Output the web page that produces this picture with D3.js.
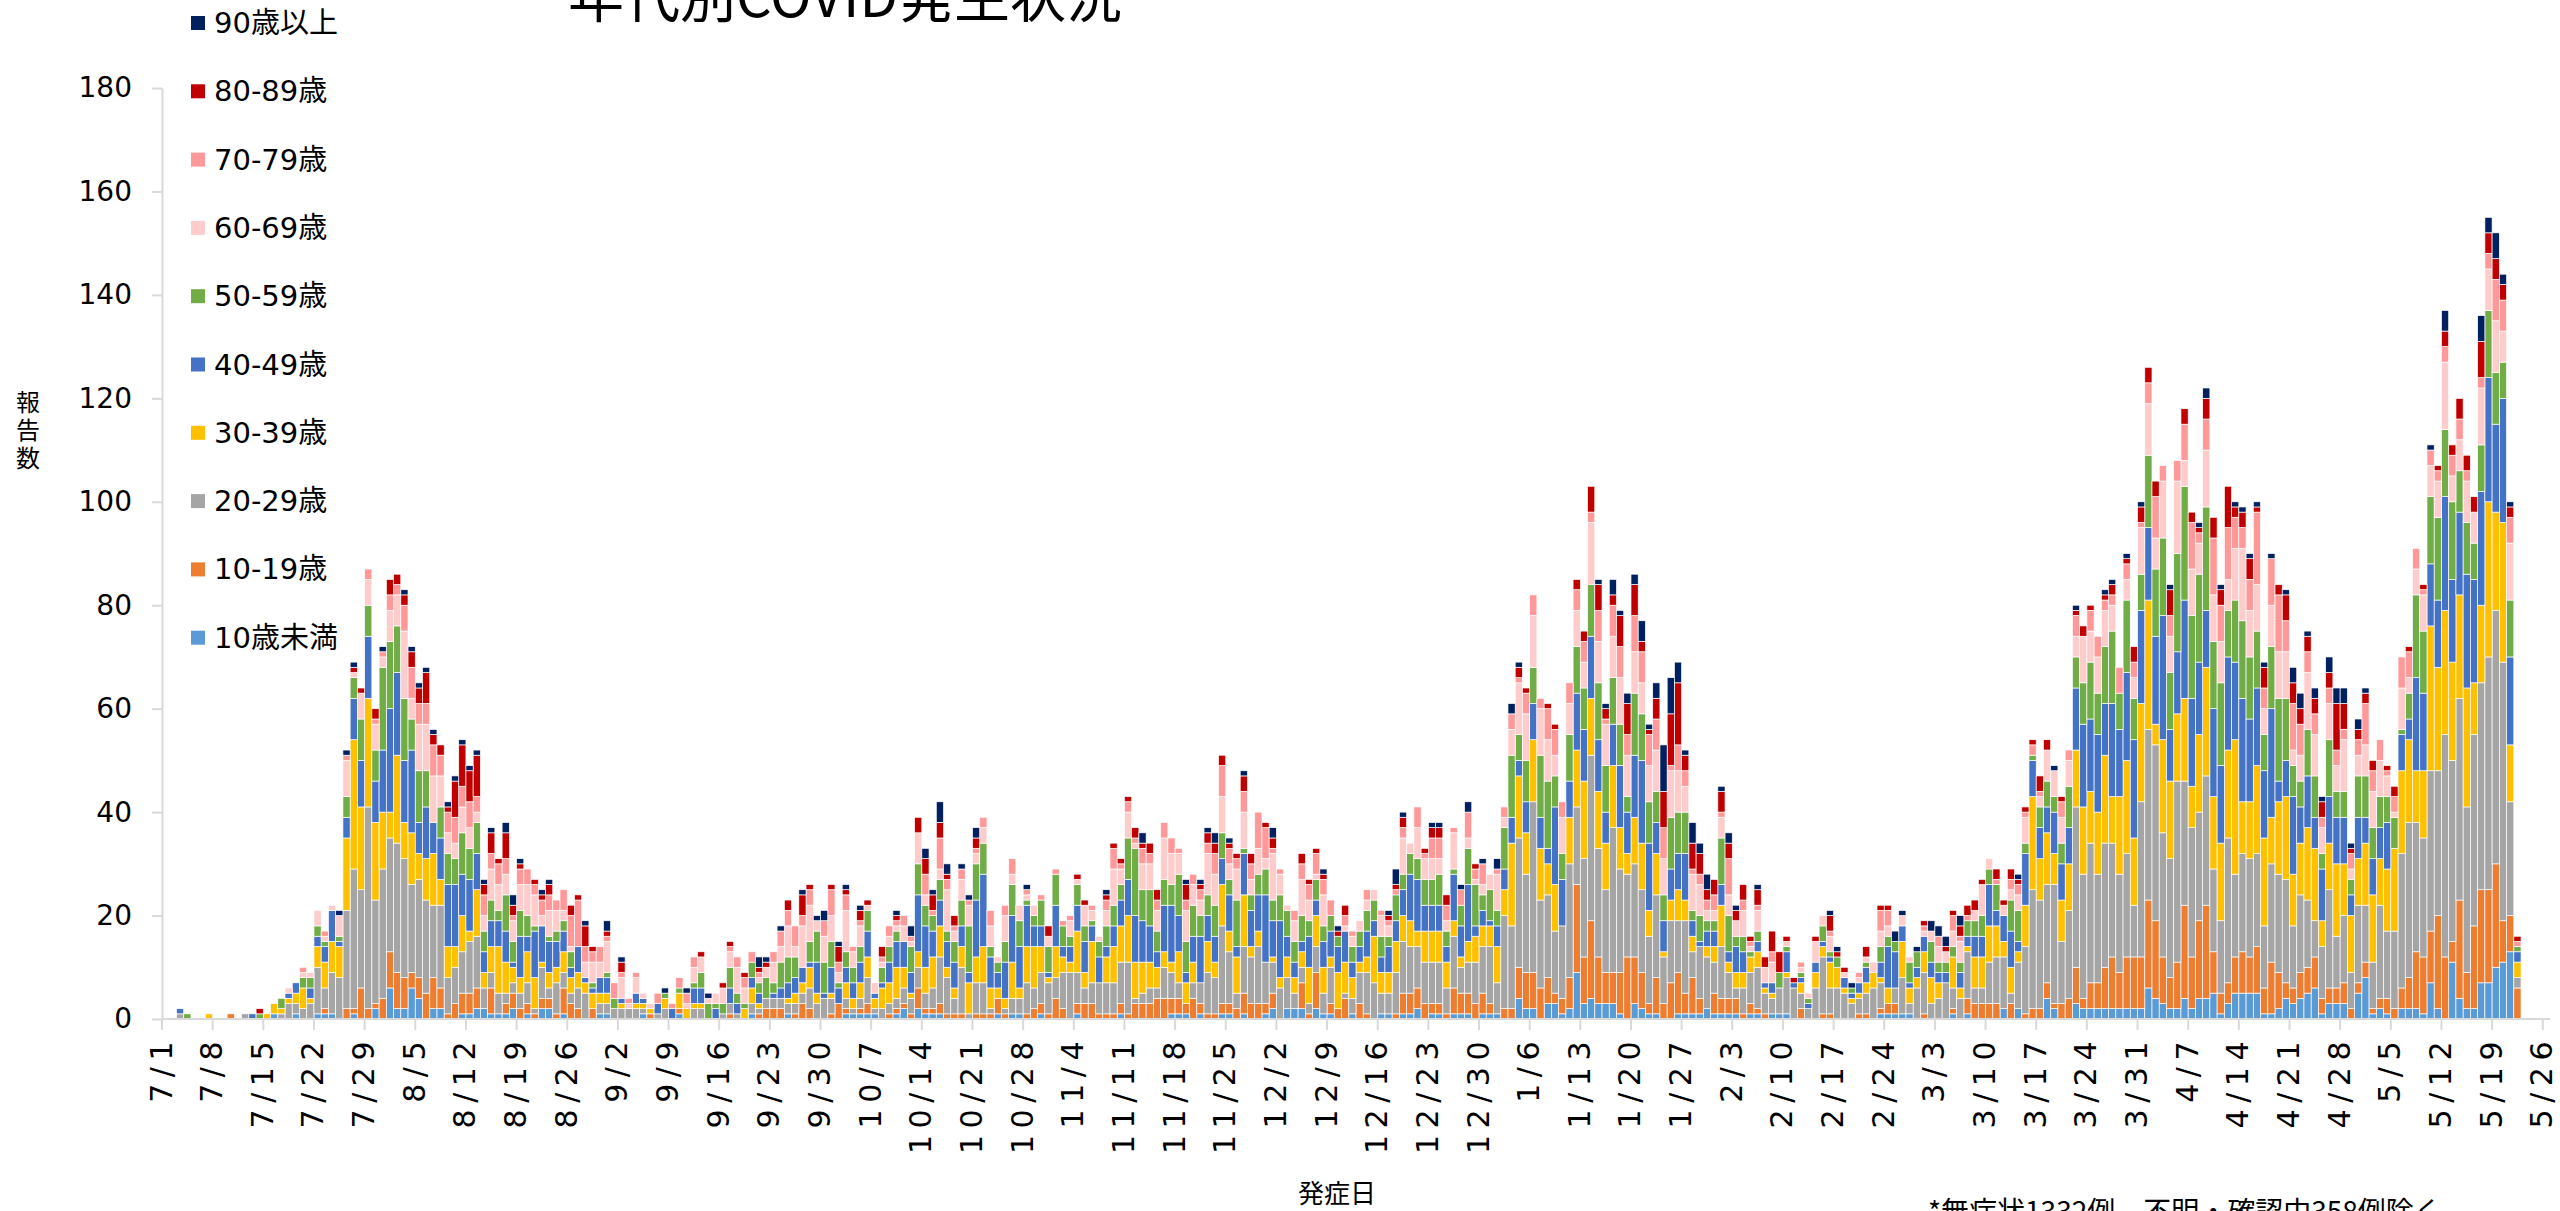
<!DOCTYPE html>
<html><head><meta charset="utf-8">
<script src="https://cdn.jsdelivr.net/npm/d3@7"></script>
<style>
html,body{margin:0;padding:0;background:#fff;}
svg{display:block;}
</style></head><body>
<svg id="chart" width="2560" height="1211"></svg>
<script>
const seriesNames = ["10歳未満","10-19歳","20-29歳","30-39歳","40-49歳","50-59歳","60-69歳","70-79歳","80-89歳","90歳以上"];
const seriesColors = ["#5B9BD5","#ED7D31","#A5A5A5","#FFC000","#4472C4","#70AD47","#FFCCCC","#FF9999","#C00000","#002060"];

const under10 = [0,0,0,0,0,0,0,0,0,0, 0,0,0,0,0,1,0,0,1,0, 0,1,1,1,0,0,1,0,0,2, 0,6,2,2,6,4,0,2,2,0, 0,1,1,2,2,1,1,1,2,0, 1,0,2,2,0,1,0,0,0,0, 1,1,0,0,0,0,1,0,0,0, 0,1,0,0,0,0,0,0,0,0, 0,1,0,0,0,0,1,0,0,0, 0,0,0,0,1,1,1,1,1,0, 0,1,2,0,2,1,1,1,0,0, 0,0,0,0,0,1,0,1,1,0, 0,1,0,0,0,0,1,0,0,0, 0,0,1,0,0,0,0,0,0,1, 1,1,0,1,0,0,1,1,0,1, 0,0,1,2,0,2,2,2,0,2, 1,1,0,0,1,0,0,0,1,1, 0,1,1,2,0,1,1,0,1,1, 1,0,1,1,1,0,0,4,2,2, 0,3,3,1,2,9,3,4,3,3, 3,1,0,3,2,1,1,0,0,1, 1,1,1,2,1,1,1,1,0,1, 1,0,1,1,1,0,0,0,0,0, 0,0,0,0,0,0,0,1,1,1, 1,1,0,0,0,0,0,1,0,1, 0,0,0,0,2,0,2,0,0,0, 4,2,0,0,3,2,2,2,2,2, 2,2,2,2,6,4,3,2,2,4, 2,4,4,5,1,3,5,5,5,5, 1,1,2,4,3,4,5,6,1,3, 3,3,0,5,8,1,2,1,0,2, 2,2,1,7,2,0,11,4,2,2, 7,7,10,11,13,0];
const age10s = [0,0,0,0,0,0,0,0,0,1, 0,0,0,0,0,0,0,0,0,0, 0,0,1,0,0,2,1,6,2,1, 4,7,7,6,3,4,5,6,4,1, 3,4,4,4,0,5,0,2,3,2, 2,1,2,2,1,5,3,2,0,2, 0,0,0,0,0,0,0,1,0,0, 0,1,0,0,0,0,0,0,1,0, 0,0,1,2,2,2,0,1,3,2, 0,0,1,3,1,0,1,2,0,0, 1,1,1,1,4,1,1,2,1,1, 1,0,1,1,1,3,1,0,0,1, 2,2,1,4,2,0,2,3,3,1, 1,1,2,1,3,3,3,4,4,3, 3,2,4,2,1,1,2,2,2,4, 3,3,2,3,0,0,0,5,1,7, 0,2,2,4,0,3,1,0,0,0, 1,4,4,4,3,2,2,1,5,4, 4,3,4,2,0,2,2,6,7,7, 6,5,2,3,6,17,9,15,9,6, 6,8,12,9,7,2,7,3,7,8, 4,7,3,0,4,3,3,3,1,2, 1,1,0,0,0,0,2,0,0,1, 1,0,0,0,1,1,0,1,2,2, 0,0,0,1,0,0,0,1,0,3, 3,3,3,3,0,3,0,1,2,2, 3,1,3,4,7,2,5,5,8,10, 7,10,10,10,17,15,9,6,9,18, 10,15,18,8,4,4,7,8,7,9, 5,10,7,3,3,5,5,6,3,3, 3,4,2,2,3,1,2,3,2,4, 6,11,11,10,18,12,4,19,7,16, 18,18,20,8,7,6];
const age20s = [0,0,1,0,0,0,0,0,0,0, 0,1,0,0,0,0,1,3,2,2, 3,9,4,8,8,19,27,19,39,20, 25,22,25,23,17,19,18,14,16,7, 7,8,10,10,4,3,4,2,2,3, 4,1,6,2,6,3,2,4,5,0, 2,2,2,2,2,2,1,0,1,2, 0,0,0,2,2,0,0,1,2,1, 0,2,1,2,2,2,2,2,2,4, 3,4,3,0,2,1,2,5,1,2, 2,2,3,3,4,3,4,9,7,3, 9,1,6,6,1,0,1,3,3,6, 4,6,6,4,7,9,6,3,4,6, 6,6,8,10,1,2,3,2,6,5, 3,0,3,4,8,7,15,10,3,9, 9,11,8,6,6,6,3,3,2,5, 4,7,0,1,3,6,8,7,4,4, 8,10,9,8,8,8,8,5,10,5, 6,8,9,11,6,18,16,25,19,33, 17,16,12,14,22,15,19,32,21,16, 28,20,16,18,16,13,16,9,12,10, 14,5,10,10,6,10,5,2,5,6, 8,4,3,5,7,6,3,2,6,11, 5,6,5,3,3,4,6,5,0,3, 7,2,6,8,3,4,7,4,4,9, 3,3,8,9,10,2,9,13,23,21, 19,23,12,17,31,24,27,21,24,22, 19,20,10,30,33,34,24,23,35,24, 25,21,25,16,14,28,16,19,19,18, 12,19,19,20,12,15,13,7,10,19, 10,13,7,15,11,9,18,13,15,26, 30,25,23,31,28,43,35,39,32,37, 40,45,49,50,22,2];
const age30s = [0,0,0,0,0,0,1,0,0,0, 0,0,0,0,1,2,1,1,2,4, 1,4,5,6,6,14,25,16,21,15, 11,5,17,7,10,5,8,10,5,6, 4,7,2,9,3,5,9,6,3,3, 6,6,1,3,3,4,3,3,2,3, 2,2,0,1,0,1,1,1,0,2, 0,3,2,1,1,0,0,0,0,0, 2,3,1,0,0,0,1,2,2,4, 2,0,1,0,3,2,3,4,2,4, 4,6,4,1,3,5,6,6,2,2, 4,6,5,7,4,2,2,7,2,7, 8,5,1,6,3,2,8,3,8,0, 5,7,7,9,7,6,5,4,3,2, 6,4,4,0,6,3,8,4,7,10, 2,3,0,1,2,4,3,3,7,6, 5,2,7,6,4,2,3,9,4,4, 6,5,5,3,6,6,6,5,3,2, 4,5,4,4,7,5,16,12,8,12, 10,6,9,0,9,11,15,11,11,9, 12,8,4,9,9,5,8,1,4,6, 4,3,0,2,3,8,2,3,3,3, 3,1,1,0,1,0,2,0,3,2, 5,4,1,1,1,2,3,1,3,0, 7,3,2,4,5,3,0,6,2,1, 6,6,7,6,3,5,2,8,18,8, 10,6,8,9,11,13,10,12,17,9, 15,18,13,19,25,4,18,15,13,16, 8,15,21,14,15,17,26,10,11,17, 17,9,14,16,10,10,14,14,5,9, 14,10,11,9,12,13,9,12,16,16, 16,10,13,28,20,24,19,20,23,10, 15,30,19,27,11,3];
const age40s = [0,0,1,0,0,0,0,0,0,0, 0,0,1,0,0,0,0,1,2,0, 2,2,3,6,1,4,8,9,12,8, 12,20,16,12,16,6,10,6,8,12, 12,8,10,7,4,5,5,6,1,8, 3,9,7,6,5,4,2,5,1,1, 3,3,0,1,0,2,1,0,2,0, 2,0,0,3,3,0,2,0,3,2, 0,2,2,0,1,2,3,3,3,1, 6,1,5,3,3,3,4,5,1,1, 4,5,5,4,11,8,5,5,5,5, 4,2,11,14,6,3,7,9,8,8, 4,4,1,8,2,3,5,6,3,5, 2,4,5,7,9,8,7,3,9,11, 7,2,5,9,5,5,5,7,2,8, 7,7,13,7,11,4,3,2,6,3, 5,5,5,6,3,3,5,3,3,5, 4,5,9,10,5,5,5,3,9,6, 11,2,3,1,4,4,5,3,6,7, 6,3,15,9,7,11,10,12,10,6, 8,12,8,12,16,13,6,6,6,7, 9,3,1,3,3,4,2,5,4,0, 2,1,2,0,4,1,1,1,2,1, 1,0,2,1,2,3,0,3,8,7, 3,1,2,3,3,2,2,0,3,2, 4,4,8,3,5,7,2,10,7,6, 5,8,7,7,12,16,14,15,10,18, 13,17,19,18,14,17,24,10,12,19, 17,14,11,17,15,18,15,20,16,15, 13,21,4,7,15,7,10,6,10,9, 9,9,4,8,5,7,6,9,0,7, 4,18,15,12,13,22,16,16,22,20, 22,24,17,24,17,2];
const age50s = [0,0,0,1,0,0,0,0,0,0, 0,0,0,1,0,0,2,0,0,2, 2,2,1,0,1,4,4,8,6,6, 16,13,9,12,6,10,7,0,6,6, 5,8,6,6,4,4,2,7,4,5, 4,1,0,1,2,2,3,0,0,1, 0,1,2,0,0,0,0,0,0,1, 0,1,0,1,3,3,1,2,4,2, 1,3,2,4,2,5,5,4,0,4, 6,6,5,1,3,3,3,4,0,3, 3,2,0,5,6,4,3,4,2,4, 5,9,7,6,2,2,4,6,5,1, 2,5,5,6,4,2,4,3,1,3, 4,4,3,8,13,6,7,4,5,4, 8,6,6,4,4,6,5,3,9,1, 3,4,5,4,5,5,4,5,3,4, 3,3,2,0,3,3,4,4,4,2, 5,3,4,4,5,5,6,3,1,4, 7,8,3,6,3,8,12,5,8,7, 12,13,6,5,9,9,8,10,11,9, 9,8,3,12,9,8,6,5,10,8, 8,2,5,2,2,9,7,2,3,1, 2,0,0,3,1,0,1,1,0,3, 1,2,0,1,0,1,0,3,2,2, 0,4,3,0,4,2,2,2,2,3, 3,4,3,5,0,6,6,2,1,4, 5,3,4,8,6,8,11,8,11,14, 7,14,8,7,14,13,15,11,19,22, 16,17,20,13,16,9,12,15,12,11, 7,12,16,12,6,5,9,8,3,11, 5,5,3,8,8,6,6,5,6,1, 5,16,12,13,16,13,15,8,10,7, 9,13,10,7,11,1];
const age60s = [0,0,0,0,0,0,0,0,0,0, 0,0,0,0,0,0,0,1,0,1, 1,3,1,1,4,7,1,5,5,5, 2,6,6,13,4,9,9,9,6,4, 3,5,4,2,3,6,5,4,4,5, 6,6,2,5,4,2,1,0,3,4, 3,6,0,4,1,3,1,1,0,0, 0,0,1,3,3,1,2,3,3,5, 3,0,1,2,4,3,6,2,8,7, 2,5,5,2,8,3,4,1,2,1, 2,1,3,1,6,2,0,2,8,2, 4,4,2,3,4,1,5,2,3,1, 2,0,2,0,0,3,1,4,2,1, 3,7,3,5,1,5,5,4,8,6, 4,6,4,3,8,6,7,3,6,7, 3,5,2,9,4,1,4,7,4,1, 6,0,0,1,2,2,2,2,4,2, 0,7,2,6,4,4,3,2,7,0, 2,1,2,3,7,2,5,10,9,10, 9,8,4,7,6,7,5,12,8,8, 8,9,8,8,6,7,8,7,9,8, 5,7,6,2,2,4,4,3,5,1, 4,3,4,0,1,0,1,1,4,2, 3,0,1,0,1,1,2,3,2,0, 2,1,0,1,2,3,2,3,4,0, 2,6,2,0,2,2,3,5,0,2, 6,5,5,5,4,9,6,7,7,5, 0,4,4,9,10,6,11,7,14,5, 9,6,11,9,8,6,10,14,9,9, 5,8,9,9,3,5,11,8,5,7, 5,10,2,4,6,7,7,4,1,8, 3,5,7,6,7,13,5,6,8,6, 11,8,10,6,11,0];
const age70s = [0,0,0,0,0,0,0,0,0,0, 0,0,0,0,0,0,0,0,0,1, 0,0,1,0,0,1,0,0,2,1, 1,3,2,5,6,4,4,6,4,4, 5,4,5,3,4,3,4,3,1,3, 3,2,3,3,2,4,6,9,3,2, 3,1,3,1,1,1,0,0,2,0, 1,2,2,2,0,0,0,0,1,2, 2,2,1,0,2,3,3,4,2,3, 0,3,5,2,3,1,1,0,0,1, 2,1,2,1,0,4,1,6,2,1, 2,1,1,2,3,0,2,3,0,1, 0,1,0,1,1,1,0,0,1,0, 2,4,1,2,1,3,2,2,3,3, 1,2,2,2,2,4,6,3,2,4, 3,7,6,1,1,0,2,3,3,4, 3,3,0,2,1,0,2,0,1,1, 1,2,0,4,1,4,4,3,1,3, 5,2,4,0,1,2,3,1,4,4, 2,6,5,3,4,4,4,2,6,1, 6,6,4,7,6,6,6,6,1,5, 3,1,2,2,3,1,7,0,2,1, 1,0,2,0,0,0,1,0,0,0, 1,0,0,0,1,0,0,4,3,0, 0,0,0,1,0,2,0,3,1,1, 0,0,0,1,0,2,2,1,2,1, 0,0,3,2,4,0,4,4,2,2, 5,3,3,1,4,8,3,4,4,7, 9,2,6,11,7,10,6,4,6,14, 4,9,11,6,9,6,4,4,2,3, 3,2,3,3,8,4,4,1,3,6, 5,4,1,3,2,3,4,4,2,0, 2,3,8,6,5,1];
const age80s = [0,0,0,0,0,0,0,0,0,0, 0,0,0,1,0,0,0,0,0,0, 0,0,0,0,0,0,1,1,0,2, 0,3,2,2,3,3,6,2,2,1, 7,8,6,8,2,4,1,5,2,1, 0,1,1,2,0,0,2,1,4,1, 0,1,0,2,0,0,0,0,0,0, 0,0,0,0,1,0,0,1,1,0, 1,0,1,1,0,0,2,0,4,1, 0,0,1,3,1,0,2,1,0,2, 0,1,0,0,3,3,3,3,1,2, 0,0,2,0,0,0,0,0,0,0, 0,0,2,0,0,0,1,1,0,0, 1,1,1,1,2,1,2,2,0,0, 0,3,0,1,2,2,2,1,1,3, 2,0,1,2,0,0,0,2,1,1, 1,0,1,2,0,0,0,0,0,1, 1,2,0,0,1,2,2,2,0,0, 0,1,0,0,0,0,0,2,1,0, 0,1,1,0,0,2,2,5,5,2, 2,6,6,6,2,1,4,7,10,12, 3,5,4,2,3,4,3,2,3,1, 3,2,4,4,1,1,0,0,1,0, 3,1,1,0,0,2,0,1,1,0, 0,0,0,1,0,0,1,1,2,2, 2,1,0,2,1,2,1,1,1,3, 2,0,1,0,1,2,1,0,1,2, 0,1,3,3,3,3,0,5,0,3, 2,1,4,4,3,8,2,3,4,1, 4,0,2,5,4,3,3,3,3,3, 9,5,1,2,2,2,0,1,2,0, 1,0,1,0,1,3,2,4,3,3, 7,4,4,3,2,1];
const age90plus = [0,0,0,0,0,0,0,0,0,0, 0,0,0,0,0,0,0,0,0,0, 0,0,0,0,1,1,1,0,0,0, 1,0,0,1,1,1,1,1,0,1, 1,1,1,1,1,1,0,2,2,1, 0,0,1,1,0,0,0,0,1,0, 0,2,0,1,0,0,0,0,0,1, 0,0,1,0,0,1,0,0,0,0, 0,0,2,1,0,1,0,0,1,0, 1,2,0,1,1,0,1,0,0,0, 0,1,0,2,0,2,1,4,2,0, 1,1,2,0,0,0,0,0,0,1, 0,0,0,0,0,0,0,0,0,0, 1,0,0,0,0,2,0,0,0,0, 0,1,0,1,1,2,0,1,0,1, 0,0,0,2,0,0,0,0,0,0, 1,0,1,0,0,0,0,0,0,1, 3,1,0,0,0,1,1,0,0,1, 2,0,1,0,2,0,2,1,0,0, 0,0,0,0,0,0,0,0,1,1, 3,1,2,2,4,1,3,9,7,4, 1,4,2,3,0,1,2,1,0,0, 1,0,0,0,0,0,0,0,0,0, 1,1,0,1,0,0,0,0,0,2, 1,0,1,0,2,2,2,0,2,0, 0,0,0,0,0,0,1,0,0,0, 0,1,0,0,1,0,0,0,1,1, 0,1,0,1,0,0,0,1,0,0, 0,1,2,0,1,0,1,1,1,1, 1,1,0,1,3,3,1,2,1,3, 3,3,1,2,1,0,0,0,0,0, 0,0,0,1,0,4,0,0,0,0, 5,3,5,2,1,0];

const tickLabels = ["7/1","7/8","7/15","7/22","7/29","8/5","8/12","8/19","8/26","9/2","9/9","9/16","9/23","9/30","10/7","10/14","10/21","10/28","11/4","11/11","11/18","11/25","12/2","12/9","12/16","12/23","12/30","1/6","1/13","1/20","1/27","2/3","2/10","2/17","2/24","3/3","3/10","3/17","3/24","3/31","4/7","4/14","4/21","4/28","5/5","5/12","5/19","5/26"];
const yTicks = [0,20,40,60,80,100,120,140,160,180];

const seriesValues = [under10, age10s, age20s, age30s, age40s, age50s, age60s, age70s, age80s, age90plus];
const keys = seriesNames;
const nDays = under10.length;
const rows = d3.range(nDays).map(i => {
  const r = {idx: i};
  keys.forEach((k, j) => r[k] = seriesValues[j][i]);
  return r;
});

const svg = d3.select("#chart");
const x0 = 162, nSlots = tickLabels.length * 7 - 6; // 7/1 .. 5/26
const x = d3.scaleBand().domain(d3.range(nSlots)).range([x0, 2550]).paddingInner(0).paddingOuter(0);
const y = d3.scaleLinear().domain([0, 180]).range([1019, 88]);
const color = d3.scaleOrdinal().domain(keys).range(seriesColors);

const stacked = d3.stack().keys(keys)(rows);

const gBars = svg.append("g");
stacked.forEach(layer => {
  gBars.append("g").attr("fill", color(layer.key))
    .selectAll("rect").data(layer.filter(d => d[1] - d[0] > 0)).join("rect")
    .attr("x", d => x(d.data.idx))
    .attr("width", x.bandwidth())
    .attr("y", d => y(d[1]))
    .attr("height", d => y(d[0]) - y(d[1]))
    .attr("stroke", "#ffffff")
    .attr("stroke-width", 0.7);
});

// Y axis
const yAxis = d3.axisLeft(y).tickValues(yTicks).tickSize(10).tickSizeOuter(0).tickPadding(20);
const gy = svg.append("g").attr("transform", `translate(${x0},0)`).call(yAxis);
gy.select(".domain").attr("stroke", "#d9d9d9").attr("stroke-width", 2);
gy.selectAll(".tick line").attr("stroke", "#d9d9d9").attr("stroke-width", 2);
gy.selectAll(".tick text").attr("font-family", "'DejaVu Sans', Verdana, sans-serif").attr("font-size", 28).attr("fill", "#000");

// X axis
const gx = svg.append("g");
gx.append("line").attr("x1", x0).attr("x2", 2550).attr("y1", y(0)).attr("y2", y(0))
  .attr("stroke", "#d9d9d9").attr("stroke-width", 2);
tickLabels.forEach((lab, i) => {
  const xi = x(i * 7);
  gx.append("line").attr("x1", xi).attr("x2", xi).attr("y1", y(0)).attr("y2", y(0) + 11)
    .attr("stroke", "#d9d9d9").attr("stroke-width", 2);
  gx.append("text")
    .attr("transform", `translate(${xi - 1},${y(0) + 16}) rotate(-90)`)
    .attr("text-anchor", "end")
    .attr("dominant-baseline", "central")
    .attr("font-family", "'DejaVu Sans', Verdana, sans-serif")
    .attr("font-size", 30)
    .attr("letter-spacing", 6.5)
    .attr("fill", "#000")
    .text(lab);
});

// Title (clipped at the top as in the reference)
svg.append("text").attr("x", 568).attr("y", 17)
  .attr("font-family", "'Noto Sans CJK JP', sans-serif").attr("font-size", 56).attr("fill", "#000")
  .text("年代別COVID発生状況");

// Legend (top = 90歳以上)
const legendOrder = keys.slice().reverse();
legendOrder.forEach((k, i) => {
  const cy = 23 + i * 68.3;
  svg.append("rect").attr("x", 191).attr("y", cy - 7).attr("width", 14).attr("height", 14).attr("fill", color(k));
  svg.append("text").attr("x", 214).attr("y", cy).attr("dominant-baseline", "central")
    .attr("font-family", "'DejaVu Sans', 'Noto Sans CJK JP', sans-serif").attr("font-size", 29).attr("fill", "#000")
    .text(k);
});

// Y axis title (vertical)
svg.append("text").attr("x", 28).attr("y", 390)
  .attr("writing-mode", "vertical-rl")
  .attr("letter-spacing", 4)
  .attr("font-family", "'Noto Sans CJK JP', sans-serif").attr("font-size", 24).attr("fill", "#000").text("報告数");

// X axis title
svg.append("text").attr("x", 1337).attr("y", 1203).attr("text-anchor", "middle")
  .attr("font-family", "'Noto Sans CJK JP', sans-serif").attr("font-size", 26).attr("fill", "#000").text("発症日");

// Footnote (partly cut at the bottom edge, as in the reference)
svg.append("text").attr("x", 1928).attr("y", 1222)
  .attr("font-family", "'Noto Sans CJK JP', sans-serif").attr("font-size", 28).attr("fill", "#000")
  .text("*無症状1332例、不明・確認中358例除く");
</script>
</body></html>
